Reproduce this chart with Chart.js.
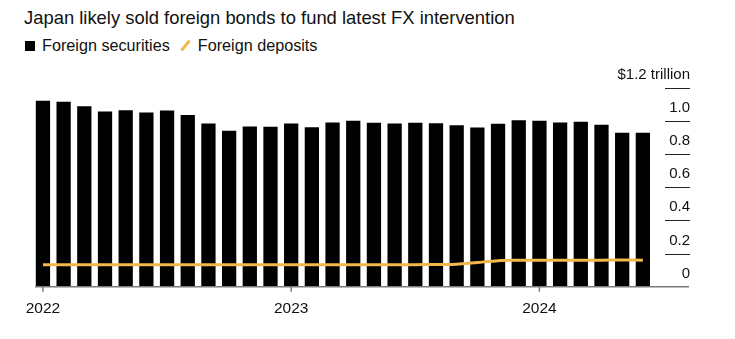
<!DOCTYPE html>
<html lang="en">
<head>
<meta charset="UTF-8">
<title>Japan foreign reserves</title>
<script src="https://cdn.jsdelivr.net/npm/chart.js"></script>
<style>
  body { margin: 0; background: #fff; font-family: "Liberation Sans", Arial, sans-serif; }
  #wrap { position: relative; width: 735px; height: 339px; overflow: hidden; }
  #title { position: absolute; left: 24px; top: 7px; font-size: 18.4px; color: #111; white-space: nowrap; }
  #legend { position: absolute; left: 25px; top: 35px; font-size: 16.2px; color: #111; white-space: nowrap; }
  #legend span { display: inline-block; vertical-align: middle; }
  .sq { width: 10px; height: 10px; background: #000; margin-right: 7px; }
  .sl { width: 3px; height: 13px; background: #f2b84b; transform: rotate(40deg); margin: 0 11px 0 14px; border-radius: 1px; }
  canvas { position: absolute; left: 0; top: 0; }
</style>
</head>
<body>
<div id="wrap">
  <div id="title">Japan likely sold foreign bonds to fund latest FX intervention</div>
  <div id="legend"><span class="sq"></span><span>Foreign securities</span><span class="sl"></span><span>Foreign deposits</span></div>
  <canvas id="myChart" width="735" height="339"></canvas>
</div>
<script>
// monthly, Jan 2022 - Jun 2024, trillions of dollars
const months = ['2022-01','2022-02','2022-03','2022-04','2022-05','2022-06','2022-07','2022-08','2022-09','2022-10','2022-11','2022-12',
                '2023-01','2023-02','2023-03','2023-04','2023-05','2023-06','2023-07','2023-08','2023-09','2023-10','2023-11','2023-12',
                '2024-01','2024-02','2024-03','2024-04','2024-05','2024-06'];
const securities = [1.122, 1.116, 1.088, 1.056, 1.064, 1.05, 1.062, 1.036, 0.984, 0.94, 0.966, 0.964,
                    0.984, 0.962, 0.99, 1.0, 0.988, 0.984, 0.988, 0.986, 0.974, 0.96, 0.982, 1.004,
                    1.0, 0.99, 0.994, 0.976, 0.928, 0.928];
const deposits = [0.133, 0.133, 0.133, 0.133, 0.133, 0.133, 0.133, 0.133, 0.133, 0.133, 0.133, 0.133,
                  0.133, 0.133, 0.133, 0.133, 0.133, 0.133, 0.133, 0.134, 0.135, 0.146, 0.157, 0.159,
                  0.16, 0.16, 0.16, 0.16, 0.161, 0.16];
const yearLabels = ['2022', '2023', '2024'];
const yTicks = [0, 0.2, 0.4, 0.6, 0.8, 1.0, 1.2];
const yTickLabels = ['0', '0.2', '0.4', '0.6', '0.8', '1.0', '$1.2 trillion'];

const FONT = '"Liberation Sans", Arial, sans-serif';

const axisPlugin = {
  id: 'axisPlugin',
  afterDraw(chart) {
    const ctx = chart.ctx;
    const x = chart.scales.x, y = chart.scales.y;
    const y0 = y.getPixelForValue(0);
    ctx.save();
    // baseline
    ctx.strokeStyle = '#7a7a7a';
    ctx.lineWidth = 1.5;
    ctx.beginPath();
    ctx.moveTo(35, y0);
    ctx.lineTo(689, y0);
    ctx.stroke();
    // year ticks + labels
    ctx.fillStyle = '#111';
    ctx.font = '15.5px ' + FONT;
    ctx.textAlign = 'center';
    ctx.textBaseline = 'middle';
    yearLabels.forEach((lab, i) => {
      const px = x.getPixelForValue(i * 12);
      ctx.beginPath();
      ctx.moveTo(px, y0);
      ctx.lineTo(px, y0 + 5);
      ctx.stroke();
      ctx.fillText(lab, px, y0 + 22);
    });
    // y ticks on the right
    ctx.strokeStyle = '#222';
    ctx.lineWidth = 1;
    ctx.font = '15px ' + FONT;
    ctx.textAlign = 'right';
    ctx.textBaseline = 'alphabetic';
    yTicks.forEach((v, i) => {
      const py = Math.round(y.getPixelForValue(v)) + 0.5;
      if (v > 0) {
        ctx.beginPath();
        ctx.moveTo(665, py);
        ctx.lineTo(690, py);
        ctx.stroke();
      }
      ctx.fillText(yTickLabels[i], 690, py - 9.5);
    });
    ctx.restore();
  }
};

new Chart(document.getElementById('myChart'), {
  type: 'bar',
  data: {
    labels: months,
    datasets: [{
      type: 'line',
      label: 'Foreign deposits',
      data: deposits,
      borderColor: '#f2b84b',
      borderWidth: 3,
      pointRadius: 0,
      tension: 0.3,
      order: 0
    }, {
      label: 'Foreign securities',
      data: securities,
      backgroundColor: '#000',
      barPercentage: 0.69,
      categoryPercentage: 1,
      order: 1
    }]
  },
  options: {
    responsive: false,
    animation: false,
    layout: { padding: { left: 32.6, right: 81.8, top: 87.7, bottom: 52.3 } },
    plugins: { legend: { display: false }, tooltip: { enabled: false } },
    scales: {
      x: { display: false },
      y: { display: false, min: 0, max: 1.2 }
    }
  },
  plugins: [axisPlugin]
});
</script>
</body>
</html>
